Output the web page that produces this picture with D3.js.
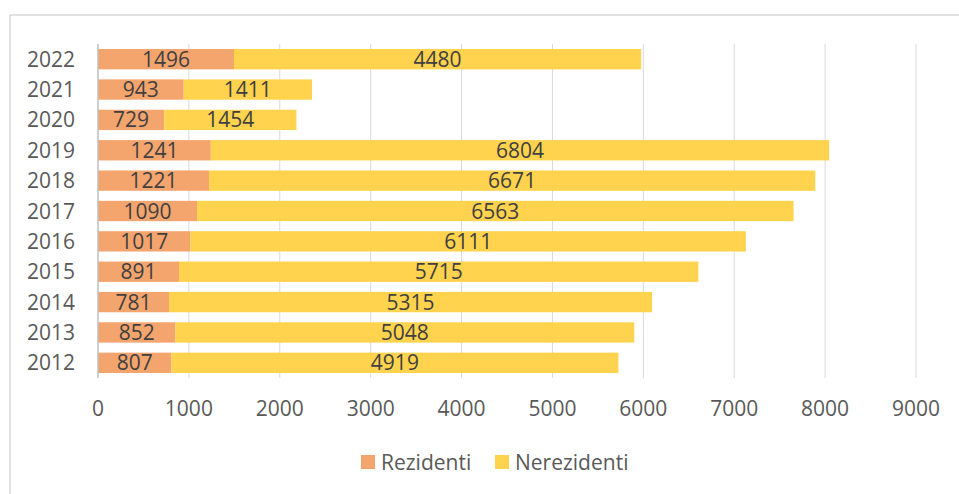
<!DOCTYPE html>
<html>
<head>
<meta charset="utf-8">
<script src="https://cdn.jsdelivr.net/npm/d3@7/dist/d3.min.js"></script>
<style>
  html, body { margin: 0; padding: 0; background: #fff; }
  svg { display: block; }
  text { font-family: "Open Sans", "Noto Sans", sans-serif; }
</style>
</head>
<body>
<svg id="chart" width="959" height="494"></svg>
<script>
const years = ["2012","2013","2014","2015","2016","2017","2018","2019","2020","2021","2022"];
const rezidenti = [807, 852, 781, 891, 1017, 1090, 1221, 1241, 729, 943, 1496];
const nerezidenti = [4919, 5048, 5315, 5715, 6111, 6563, 6671, 6804, 1454, 1411, 4480];
const xTicks = [0, 1000, 2000, 3000, 4000, 5000, 6000, 7000, 8000, 9000];
const seriesNames = ["Rezidenti", "Nerezidenti"];
const colors = ["#F4A56E", "#FFD34D"];

(function () {
const svg = d3.select("#chart");
const W = 959, H = 494;

svg.append("line").attr("x1", 10).attr("x2", W).attr("y1", 15).attr("y2", 15)
  .attr("stroke", "#d9d9d9").attr("stroke-width", 1.5);
svg.append("line").attr("x1", 10).attr("x2", 10).attr("y1", 15).attr("y2", H)
  .attr("stroke", "#d9d9d9").attr("stroke-width", 1.5);

const pLeft = 98, pRight = 916, pTop = 44, pBottom = 378;

const x = d3.scaleLinear().domain([0, 9000]).range([pLeft, pRight]);
const y = d3.scaleBand().domain(years.slice().reverse()).range([pTop, pBottom])
  .paddingInner(0.33).paddingOuter(0.165);

svg.append("g").selectAll("line").data(xTicks.filter(d => d > 0)).join("line")
  .attr("x1", d => x(d)).attr("x2", d => x(d))
  .attr("y1", pTop).attr("y2", pBottom)
  .attr("stroke", "#d9d9d9").attr("stroke-width", 1);

const rows = years.map((yr, i) => ({ year: yr, r: rezidenti[i], n: nerezidenti[i] }));

const g = svg.append("g");
g.selectAll("rect.r").data(rows).join("rect").attr("class", "r")
  .attr("x", d => x(0)).attr("width", d => x(d.r) - x(0))
  .attr("y", d => y(d.year)).attr("height", y.bandwidth())
  .attr("fill", colors[0]);
g.selectAll("rect.n").data(rows).join("rect").attr("class", "n")
  .attr("x", d => x(d.r)).attr("width", d => x(d.r + d.n) - x(d.r))
  .attr("y", d => y(d.year)).attr("height", y.bandwidth())
  .attr("fill", colors[1]);

svg.append("line").attr("x1", x(0)).attr("x2", x(0)).attr("y1", pTop).attr("y2", pBottom)
  .attr("stroke", "#bfbfbf").attr("stroke-width", 1.5);

const fs = 21;
g.selectAll("text.rl").data(rows).join("text").attr("class", "rl")
  .attr("x", d => (x(0) + x(d.r)) / 2)
  .attr("y", d => y(d.year) + y.bandwidth() / 2)
  .attr("dy", "0.36em").attr("text-anchor", "middle")
  .attr("font-size", fs).attr("fill", "#404040")
  .text(d => d.r);
g.selectAll("text.nl").data(rows).join("text").attr("class", "nl")
  .attr("x", d => (x(d.r) + x(d.r + d.n)) / 2)
  .attr("y", d => y(d.year) + y.bandwidth() / 2)
  .attr("dy", "0.36em").attr("text-anchor", "middle")
  .attr("font-size", fs).attr("fill", "#404040")
  .text(d => d.n);

svg.append("g").selectAll("text").data(years).join("text")
  .attr("x", 75).attr("y", d => y(d) + y.bandwidth() / 2)
  .attr("dy", "0.36em").attr("text-anchor", "end")
  .attr("font-size", fs).attr("fill", "#595959")
  .text(d => d);

svg.append("g").selectAll("text").data(xTicks).join("text")
  .attr("x", d => x(d)).attr("y", 408)
  .attr("dy", "0.36em").attr("text-anchor", "middle")
  .attr("font-size", fs).attr("fill", "#595959")
  .text(d => d);

const legendX = [361, 495];
const lg = svg.append("g").selectAll("g").data(seriesNames).join("g")
  .attr("transform", (d, i) => `translate(${legendX[i]},455)`);
lg.append("rect").attr("width", 14).attr("height", 14).attr("fill", (d, i) => colors[i]);
lg.append("text").attr("x", 20).attr("y", 7).attr("dy", "0.36em")
  .attr("font-size", fs).attr("fill", "#595959").text(d => d);
})();
</script>
</body>
</html>
